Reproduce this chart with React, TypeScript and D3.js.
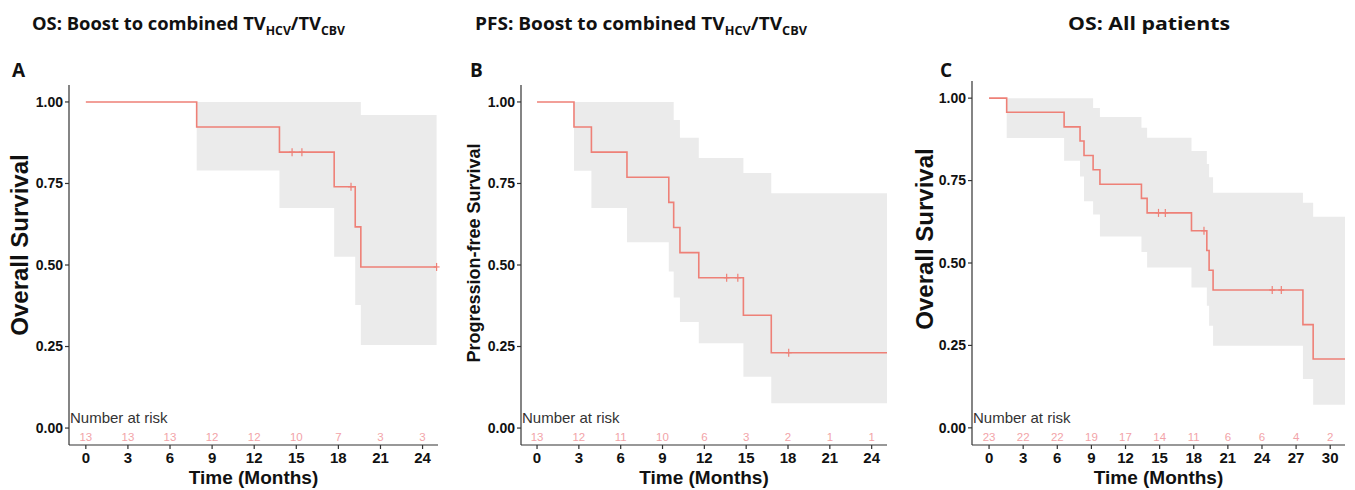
import React from "react";
import * as d3 from "d3";

// panel A: OS, boost to combined TV
const timesA = [0, 7.9, 13.8, 17.7, 19.2, 19.6];
const survA = [1, 0.923, 0.846, 0.74, 0.617, 0.494];
const upperA = [1, 1, 1, 1, 1, 0.96];
const lowerA = [1, 0.79, 0.675, 0.525, 0.377, 0.255];
const censorA = [14.7, 15.4, 18.9, 25.0];
const endA = 25.0;
const ticksA = [0, 3, 6, 9, 12, 15, 18, 21, 24];
const riskA = [13, 13, 13, 12, 12, 10, 7, 3, 3];

// panel B: PFS, boost to combined TV
const timesB = [0, 2.65, 3.9, 6.45, 9.45, 9.8, 10.25, 11.6, 14.8, 16.8];
const survB = [1, 0.923, 0.846, 0.769, 0.692, 0.615, 0.538, 0.461, 0.346, 0.231];
const upperB = [1, 1, 1, 1, 1, 0.945, 0.89, 0.828, 0.782, 0.72];
const lowerB = [1, 0.789, 0.675, 0.57, 0.48, 0.4, 0.325, 0.26, 0.157, 0.076];
const censorB = [13.6, 14.4, 18.05];
const endB = 25.1;
const ticksB = [0, 3, 6, 9, 12, 15, 18, 21, 24];
const riskB = [13, 12, 11, 10, 6, 3, 2, 1, 1];

// panel C: OS, all patients
const timesC = [0, 1.55, 6.6, 8.0, 8.35, 9.15, 9.75, 13.4, 13.9, 17.8, 19.15, 19.35, 19.7, 27.6, 28.5];
const survC = [1, 0.957, 0.913, 0.87, 0.826, 0.783, 0.739, 0.696, 0.652, 0.598, 0.538, 0.478, 0.418, 0.313, 0.209];
const upperC = [1, 1, 1, 1, 1, 0.97, 0.943, 0.91, 0.88, 0.84, 0.8, 0.76, 0.713, 0.683, 0.64];
const lowerC = [1, 0.879, 0.81, 0.762, 0.687, 0.647, 0.58, 0.533, 0.486, 0.426, 0.37, 0.31, 0.249, 0.148, 0.07];
const censorC = [14.9, 15.5, 18.9, 24.9, 25.7];
const endC = 31.3;
const ticksC = [0, 3, 6, 9, 12, 15, 18, 21, 24, 27, 30];
const riskC = [23, 22, 22, 19, 17, 14, 11, 6, 6, 4, 2];

const yTicks = [0, 0.25, 0.5, 0.75, 1];

const lineColor = "#EE8077";
const bandColor = "#EBEBEB";
const riskColor = "#F2A3A8";
const axisFont = "'Liberation Sans', Arial, sans-serif";
const titleFont = "'Open Sans', sans-serif";

type PanelProps = {
  times: number[];
  surv: number[];
  upper: number[];
  lower: number[];
  censor: number[];
  end: number;
  ticks: number[];
  risk: number[];
  xRange: [number, number];
  xDomain: [number, number];
  yRange: [number, number];
  yTitle: string;
  yTitleX: number;
  yTitleY: number;
  yTitleSize: number;
};

const Panel = (p: PanelProps) => {
  const x = d3.scaleLinear().domain(p.xDomain).range(p.xRange);
  const y = d3.scaleLinear().domain([-0.052, 1.052]).range(p.yRange);

  const pts = p.times.map((t, i) => ({ t, s: p.surv[i], u: p.upper[i], l: p.lower[i] }));
  const last = pts[pts.length - 1];
  pts.push({ t: p.end, s: last.s, u: last.u, l: last.l });

  const line = d3.line<any>().x(d => x(d.t)).y(d => y(d.s)).curve(d3.curveStepAfter);
  const area = d3
    .area<any>()
    .x(d => x(d.t))
    .y0(d => y(d.l))
    .y1(d => y(d.u))
    .curve(d3.curveStepAfter);

  const survAt = (t: number) => {
    const i = d3.bisectRight(p.times, t) - 1;
    return p.surv[Math.max(0, i)];
  };

  const [x0, x1] = p.xRange;
  const [yb, yt] = p.yRange;

  return (
    <g>
      <path d={area(pts) || ""} fill={bandColor} />
      <path d={line(pts) || ""} fill="none" stroke={lineColor} strokeWidth={1.6} />
      {p.censor.map((c, i) => (
        <g key={i} stroke={lineColor} strokeWidth={1.2}>
          <line x1={x(c)} x2={x(c)} y1={y(survAt(c)) - 4} y2={y(survAt(c)) + 4} />
          <line x1={x(c) - 3} x2={x(c) + 3} y1={y(survAt(c))} y2={y(survAt(c))} />
        </g>
      ))}
      {/* axes */}
      <line x1={x0} x2={x0} y1={yt} y2={yb} stroke="#333" strokeWidth={1.2} />
      <line x1={x0} x2={x1} y1={yb} y2={yb} stroke="#333" strokeWidth={1.2} />
      {yTicks.map(v => (
        <g key={v}>
          <line x1={x0 - 4} x2={x0} y1={y(v)} y2={y(v)} stroke="#333" strokeWidth={1.2} />
          <text
            x={x0 - 6}
            y={y(v)}
            dy="0.35em"
            textAnchor="end"
            fontFamily={axisFont}
            fontWeight="bold"
            fontSize={14}
            fill="#111"
          >
            {d3.format(".2f")(v)}
          </text>
        </g>
      ))}
      {p.ticks.map((t, i) => (
        <g key={t}>
          <line x1={x(t)} x2={x(t)} y1={yb} y2={yb + 4} stroke="#333" strokeWidth={1.2} />
          <text
            x={x(t)}
            y={yb + 18}
            textAnchor="middle"
            fontFamily={axisFont}
            fontWeight="bold"
            fontSize={15}
            fill="#111"
          >
            {t}
          </text>
          <text
            x={x(t)}
            y={yb - 4}
            textAnchor="middle"
            fontFamily={axisFont}
            fontSize={11.5}
            fill={riskColor}
          >
            {p.risk[i]}
          </text>
        </g>
      ))}
      <text x={x0 + 1} y={yb - 22} fontFamily={axisFont} fontSize={15} fill="#333">
        Number at risk
      </text>
      <text
        x={(x0 + x1) / 2}
        y={yb + 39}
        textAnchor="middle"
        fontFamily={axisFont}
        fontWeight="bold"
        fontSize={19}
        fill="#111"
      >
        Time (Months)
      </text>
      <text
        transform={`translate(${p.yTitleX},${p.yTitleY}) rotate(-90)`}
        textAnchor="middle"
        fontFamily={axisFont}
        fontWeight="bold"
        fontSize={p.yTitleSize}
        fill="#111"
      >
        {p.yTitle}
      </text>
    </g>
  );
};

const Title = ({ x, len, children }: { x: number; len: number; children: React.ReactNode }) => (
  <text
    x={x}
    y={30}
    textLength={len}
    lengthAdjust="spacingAndGlyphs"
    fontFamily={titleFont}
    fontWeight="bold"
    fontSize={18}
    fill="#111"
  >
    {children}
  </text>
);

const Sub = ({ t }: { t: string }) => (
  <tspan fontSize={12} dy={5}>
    {t}
  </tspan>
);

export default function App() {
  return (
    <svg width={1355} height={490} style={{ position: "absolute", left: 0, top: 0, background: "#fff" }}>
      <Title x={32} len={313}>
        OS: Boost to combined TV<Sub t="HCV" />
        <tspan dy={-5}>/TV</tspan>
        <Sub t="CBV" />
      </Title>
      <Title x={475} len={332}>
        PFS: Boost to combined TV<Sub t="HCV" />
        <tspan dy={-5}>/TV</tspan>
        <Sub t="CBV" />
      </Title>
      <Title x={1068} len={162}>
        OS: All patients
      </Title>
      {[
        ["A", 12],
        ["B", 470],
        ["C", 940],
      ].map(([l, px]) => (
        <text key={l as string} x={px as number} y={77} fontFamily={titleFont} fontWeight="bold" fontSize={19} fill="#111">
          {l}
        </text>
      ))}
      <Panel
        times={timesA}
        surv={survA}
        upper={upperA}
        lower={lowerA}
        censor={censorA}
        end={endA}
        ticks={ticksA}
        risk={riskA}
        xRange={[69, 438]}
        xDomain={[-1.2, 25.1]}
        yRange={[445, 85]}
        yTitle="Overall Survival"
        yTitleX={28}
        yTitleY={245}
        yTitleSize={24}
      />
      <Panel
        times={timesB}
        surv={survB}
        upper={upperB}
        lower={lowerB}
        censor={censorB}
        end={endB}
        ticks={ticksB}
        risk={riskB}
        xRange={[521, 887]}
        xDomain={[-1.15, 25.1]}
        yRange={[445, 85]}
        yTitle="Progression-free Survival"
        yTitleX={480}
        yTitleY={253}
        yTitleSize={18}
      />
      <Panel
        times={timesC}
        surv={survC}
        upper={upperC}
        lower={lowerC}
        censor={censorC}
        end={endC}
        ticks={ticksC}
        risk={riskC}
        xRange={[972, 1345]}
        xDomain={[-1.5, 31.3]}
        yRange={[445, 81]}
        yTitle="Overall Survival"
        yTitleX={933}
        yTitleY={239}
        yTitleSize={24}
      />
    </svg>
  );
}
